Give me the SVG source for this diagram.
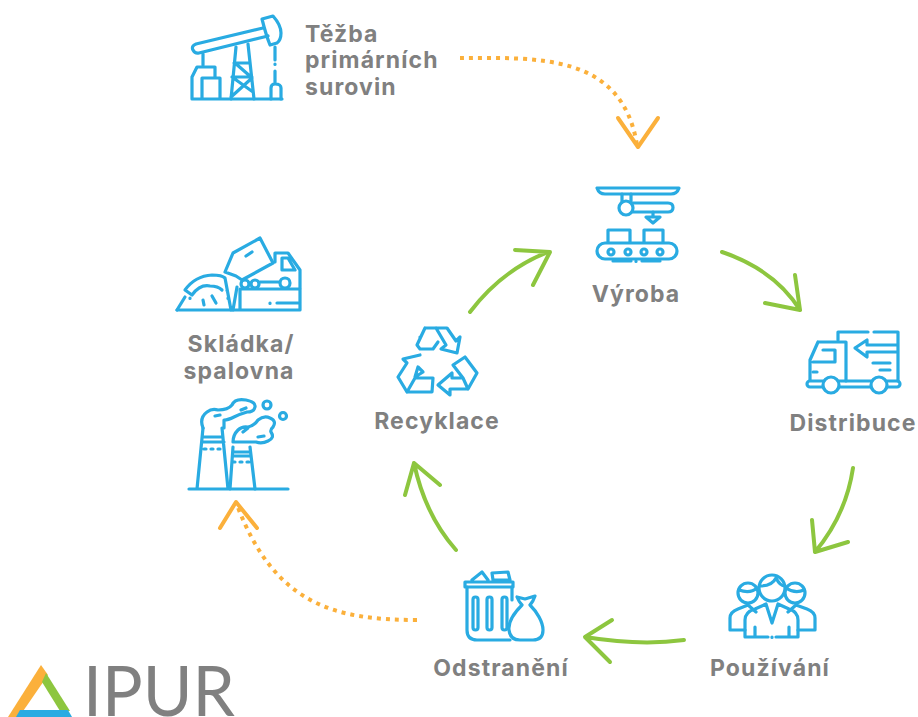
<svg xmlns="http://www.w3.org/2000/svg" width="918" height="717" viewBox="0 0 918 717">
<style>
.i{fill:none;stroke:#29abe2;stroke-width:3.2;stroke-linecap:round;stroke-linejoin:round}
.w{fill:#fff}
.t{font-family:Inter,"Liberation Sans",sans-serif;font-weight:700;font-size:23px;letter-spacing:1.1px;fill:#808080;text-anchor:middle}
.g{fill:none;stroke:#8dc63f;stroke-width:4;stroke-linecap:round;stroke-linejoin:round}
.o{fill:none;stroke:#fbb03b;stroke-width:4;stroke-linejoin:round;stroke-linecap:round}
.d{stroke-dasharray:4 5;stroke-linecap:butt}
</style>
<rect width="918" height="717" fill="#fff"/>
<g id="connectors">
<path class="g" d="M470 312Q502 270 548 252M515 250L550 252L533 285"/>
<path class="g" d="M722 252Q775 270 800 310M765 303L800 310L795 275"/>
<path class="g" d="M853 468Q846 515 815 552M812 520L815 552L848 542"/>
<path class="g" d="M684 640Q640 646 585 637M612 620L585 637L610 662"/>
<path class="g" d="M456 550Q425 515 414 463M405 495L414 463L440 485"/>
<path class="o d" d="M460 58C535 58 622 52 637 145"/>
<path class="o" d="M618 118L638 147L658 118"/>
<path class="o d" d="M417 620C335 620 275 605 237 505"/>
<path class="o" d="M220 528L236 502L257 528"/>
</g>
<g id="tezba" class="i">
<path d="M263 28L196 44Q191 46 193 50Q195 54 199 53L268 36"/>
<path d="M262 19L273 16Q281 25 281 33Q281 40 277 43L270 45Q266 35 262 19Z"/>
<path d="M203 54V65M192 99V77L197 67H215V77M202 99V78H220V99M192 99H282"/>
<path d="M236 47L231 99M248 44L254 99M234 63H250M232 77H252M235 63L251 77M232 77L253 92M231 97L252 78"/>
<path d="M275 47V60M275 64V64.500M275 71V84M271 99V88Q271 84 275 84Q281 84 281 88V99"/>
</g>
<text id="tezba-label" class="t" style="text-anchor:start"><tspan x="305" y="42">Těžba</tspan><tspan x="305" y="68">primárních</tspan><tspan x="305" y="95">surovin</tspan></text>
<g id="vyroba" class="i">
<path d="M597 188H679Q677 194 671 194H605Q599 194 597 188Z"/>
<path d="M622 194V202M631 194V202"/>
<circle cx="626" cy="208" r="7"/>
<path d="M633 203H668Q673 203 673 207.500Q673 212 668 212H633"/>
<path d="M653 212V217M646 217H660L653 223Z"/>
<path d="M608 242V230H630V242M644 242V230H663V242"/>
<rect x="597" y="243" width="80" height="16" rx="8"/>
<circle cx="611" cy="252" r="3"/><circle cx="628" cy="252" r="3"/><circle cx="644" cy="252" r="3"/><circle cx="660" cy="252" r="3"/>
<path d="M613 261H631M636 261V261.500M642 261H660"/>
</g>
<text class="t" x="636" y="302">Výroba</text>
<g id="distribuce" class="i">
<path d="M838 340V332H868M874 332H898V381"/>
<path d="M818 342H846V381M818 342L810 360V380M823 350H835V362H813"/>
<path d="M855 348L867 340V345H897M855 348L867 357V352H897M873 363H890M880 370H890M813 372H817"/>
<rect x="807" y="381" width="93" height="6" rx="3"/>
<circle class="w" cx="831" cy="385" r="8"/><circle class="w" cx="879" cy="385" r="8"/>
</g>
<text class="t" x="853" y="431">Distribuce</text>
<g id="pouzivani" class="i">
<circle cx="748" cy="593" r="10"/><circle cx="795" cy="593" r="10"/>
<path d="M739 590Q750 594 757 588M786 588Q795 594 804 590"/>
<path d="M730 630V618Q730 612 738 609L748 605L756 612M815 630V618Q815 612 807 609L796 605L788 612M730 630H745M815 630H798"/>
<circle class="w" cx="772" cy="588" r="13"/>
<path d="M760 586Q772 586 776 578Q780 586 785 586"/>
<path d="M745 637V620Q745 612 755 609L766 604L772 623L778 604L789 609Q798 612 798 620V637M745 637H768M772 637V637.500M776 637H798M755 627V637M789 627V637"/>
</g>
<text class="t" x="770" y="676">Používání</text>
<g id="odstraneni" class="i">
<path d="M472 580L482 572L488 580M492 573L508 572L510 580H493ZM465 582H513V587H465Z"/>
<path d="M467 587V630Q467 640 477 640H510M512 587V600"/>
<rect x="473" y="597" width="5" height="33" rx="2.500"/><rect x="487" y="597" width="5" height="33" rx="2.500"/><rect x="502" y="597" width="5" height="33" rx="2.500"/>
<path class="w" d="M522 605C515 612 508 622 509 630Q510 640 520 640H533Q543 640 543 630C543 622 537 612 530 605Q533 602 535 596L525 599L517 597Q519 602 522 605Z"/>
</g>
<text class="t" x="501" y="676">Odstranění</text>
<g id="recyklace" class="i">
<path d="M425 328H447L456 341L460 337L457 353L441 349L446 345L436 328M420 337V337.500M425 328L417 345L420 349H433L438 342"/>
<path d="M420 355L403 359L407 363L398 377L407 392H432L433 378H415L407 392M415 377L418 367L423 372Z"/>
<path d="M438 385L452 373V378H463L453 365L465 357L477 373L468 389H450V395ZM463 378L468 389"/>
</g>
<text class="t" x="437" y="429">Recyklace</text>
<g id="skladka" class="i">
<path d="M177 310H300V289H240V310M270 303V303.500M277 303H298"/>
<path d="M275 262V253H288L300 270V288M282 258H288L295 270H282Z"/>
<path d="M225 272L233 253L260 238L273 263L242 280L236 276ZM246 256L252 252M260 282H280"/>
<circle cx="245" cy="284" r="4"/><circle cx="255" cy="284" r="4"/><circle class="w" cx="285" cy="283" r="5"/>
<path d="M177 310L185 297M185 290Q195 276 212 275Q222 275 225 278M185 290L192 295Q200 284 210 286Q218 286 222 290M203 300L204 305M212 296L216 303M190 298V298.500M225 278L231 310M237 287L233 310M227 290V290.500M228 298V298.500"/>
</g>
<text class="t"><tspan x="241" y="352">Skládka/</tspan><tspan x="239" y="379">spalovna</tspan></text>
<g id="spalovna" class="i">
<path d="M189 489H288M203 428L197 489M222 428L228 489M203 437H223M203 442H224M204 449H206M211 449H213M218 449H220"/>
<path d="M233 447L230 489M250 447L255 489M233 452H250M233 456H251M233 462H235M240 462H242M247 462H249"/>
<path d="M203 428Q199 418 207 412Q212 408 218 410Q228 410 232 405Q235 398 246 400Q256 402 255 407Q254 412 247 412Q240 414 234 417Q228 420 224 420V428M215 416L220 415M241 410L246 408"/>
<path d="M233 442Q233 435 238 430Q242 426 248 427Q254 426 258 420Q264 415 270 418Q277 421 273 427Q270 430 271 432Q275 438 268 441Q262 444 256 442H234M243 432L248 428M258 437L264 436"/>
<circle cx="267" cy="405" r="4"/><circle cx="283" cy="416" r="3.500"/>
</g>
<g id="logo">
<path d="M41 665L48 675L19 717H8Z" fill="#fbb03b"/>
<path d="M46 673L70 711H60L42 682Z" fill="#8dc63f"/>
<path d="M20 710H68L72 717H16Z" fill="#29abe2"/>
<text x="83" y="716" font-family="Lato,'Open Sans',sans-serif" font-size="70" textLength="152" lengthAdjust="spacingAndGlyphs" fill="#808080">IPUR</text>
</g>
</svg>
